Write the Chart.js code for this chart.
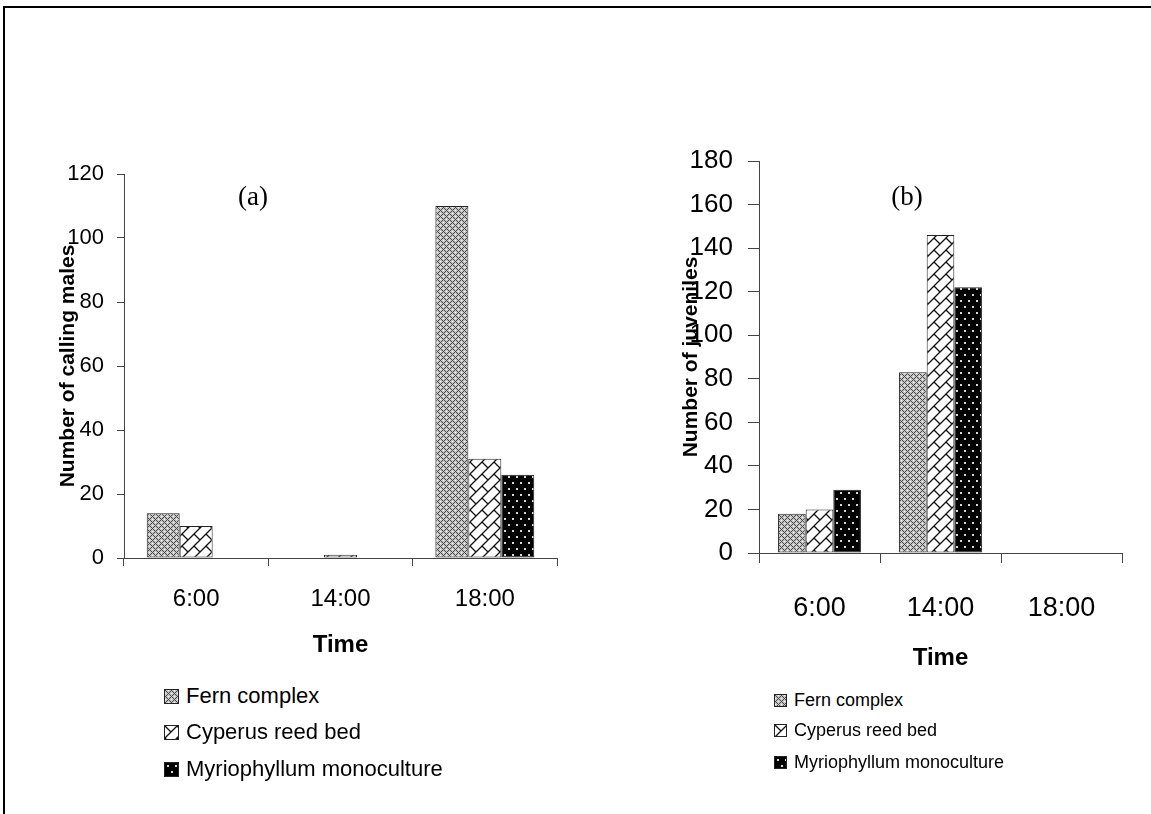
<!DOCTYPE html>
<html>
<head>
<meta charset="utf-8">
<script src="https://cdn.jsdelivr.net/npm/chart.js@4.4.1/dist/chart.umd.min.js"></script>
<style>
    html, body { margin: 0; padding: 0; background: #fff; overflow: hidden; }
    body { width: 1151px; height: 814px; position: relative; font-family: 'Liberation Sans', Arial, sans-serif; }
    .frame { position: absolute; left: 3px; top: 6px; width: 1200px; height: 900px; border-top: 2px solid #000; border-left: 2px solid #000; }
    canvas { position: absolute; }
    .panel { position: absolute; font-family: 'Liberation Serif', 'Times New Roman', serif; font-size: 27px; line-height: 27px; transform: translate(-50%, -50%); }
    .legend { position: absolute; }
    .legend .row { display: flex; align-items: center; position: absolute; left: 0; white-space: nowrap; }
    .legend canvas { position: static; border: 1px solid #222; margin-right: 7px; }
</style>
</head>
<body>
<div class="frame"></div>
<canvas id="chartA" width="530" height="520" style="left:50px;top:150px"></canvas>
<canvas id="chartB" width="481" height="560" style="left:670px;top:130px"></canvas>
<div class="panel" style="left:253px;top:196px">(a)</div>
<div class="panel" style="left:907px;top:196px">(b)</div>
<div class="legend" id="legendA" style="left:164px;top:0"></div>
<div class="legend" id="legendB" style="left:774px;top:0"></div>
<script>
// data
const times = ['6:00', '14:00', '18:00'];
const habitats = ['Fern complex', 'Cyperus reed bed', 'Myriophyllum monoculture'];

const callingFern = [14, 0, 110];
const callingCyperus = [10, 1, 31];
const callingMyrio = [0, 0, 26];

const juvFern = [18, 83, 0];
const juvCyperus = [20, 146, 0];
const juvMyrio = [29, 122, 0];

// hatch fills
function makePattern(w, h, draw) {
    const c = document.createElement('canvas');
    c.width = w;
    c.height = h;
    const g = c.getContext('2d');
    draw(g);
    return g.createPattern(c, 'repeat');
}

const fernFill = makePattern(6, 6, g => {
    g.fillStyle = '#c4c4c4';
    g.fillRect(0, 0, 6, 6);
    g.fillStyle = '#4a4a4a';
    for (let i = 0; i < 6; i++) {
        g.fillRect(i, i, 1, 1);
        g.fillRect((6 - i) % 6, i, 1, 1);
    }
    g.fillStyle = '#fff';
    g.fillRect(3, 0, 1, 1);
    g.fillRect(0, 3, 1, 1);
});

const cyperusFill = makePattern(12, 12, g => {
    g.fillStyle = '#fff';
    g.fillRect(0, 0, 12, 12);
    g.strokeStyle = '#111';
    g.lineWidth = 1.3;
    g.beginPath();
    g.moveTo(-1, 13); g.lineTo(13, -1);
    g.moveTo(-1, 1); g.lineTo(1, -1);
    g.moveTo(11, 13); g.lineTo(13, 11);
    g.moveTo(0, 0); g.lineTo(6, 6);
    g.stroke();
});

const myrioFill = makePattern(8, 12, g => {
    g.fillStyle = '#000';
    g.fillRect(0, 0, 8, 12);
    g.fillStyle = '#d8d8d8';
    g.fillRect(2, 2, 2, 2);
    g.fillRect(6, 8, 2, 2);
});

const fills = [fernFill, cyperusFill, myrioFill];
const font = 'Liberation Sans';
const axisColor = '#444';

function makeDatasets(series) {
    return series.map((values, i) => ({
        label: habitats[i],
        data: values,
        backgroundColor: fills[i],
        borderColor: '#222',
        borderWidth: 1,
        borderSkipped: false,
        barPercentage: 1,
        categoryPercentage: 0.685
    }));
}

function makeChart(id, series, cfg) {
    return new Chart(document.getElementById(id), {
        type: 'bar',
        data: { labels: times, datasets: makeDatasets(series) },
        options: {
            responsive: false,
            animation: false,
            layout: { padding: { left: 0, top: cfg.padTop, right: cfg.padRight, bottom: 0 } },
            plugins: { legend: { display: false }, tooltip: { enabled: false } },
            scales: {
                x: {
                    grid: { drawOnChartArea: false, drawTicks: true, tickLength: cfg.xTick, color: axisColor },
                    border: { display: true, color: axisColor },
                    ticks: { color: '#000', padding: cfg.xPad, font: { family: font, size: cfg.xSize, lineHeight: 1 } },
                    title: {
                        display: true, text: 'Time', color: '#000',
                        padding: { top: 0, bottom: cfg.xTitlePad },
                        font: { family: font, size: 24, weight: 'bold', lineHeight: 1 }
                    },
                    afterFit: s => { s.height = cfg.xHeight; }
                },
                y: {
                    min: 0,
                    max: cfg.yMax,
                    grid: { drawOnChartArea: false, drawTicks: true, tickLength: cfg.yTick, color: axisColor },
                    border: { display: true, color: axisColor },
                    ticks: { stepSize: 20, color: '#000', padding: cfg.yPad, font: { family: font, size: cfg.ySize, lineHeight: 1 } },
                    title: {
                        display: true, text: cfg.yTitle, color: '#000',
                        padding: { top: cfg.yTitlePad, bottom: 0 },
                        font: { family: font, size: 21, weight: 'bold', lineHeight: 1 }
                    },
                    afterFit: s => { s.width = cfg.yWidth; }
                }
            }
        }
    });
}

makeChart('chartA', [callingFern, callingCyperus, callingMyrio], {
    yMax: 120, yTitle: 'Number of calling males',
    padTop: 23, padRight: 23,
    yWidth: 74, yTick: 7, yPad: 13, ySize: 22, yTitlePad: 7.5,
    xHeight: 112, xTick: 8, xPad: 21, xSize: 24, xTitlePad: 13
});

makeChart('chartB', [juvFern, juvCyperus, juvMyrio], {
    yMax: 180, yTitle: 'Number of juveniles',
    padTop: 31, padRight: 29,
    yWidth: 89, yTick: 11, yPad: 15, ySize: 26, yTitlePad: 10.5,
    xHeight: 137, xTick: 10, xPad: 32, xSize: 27, xTitlePad: 20
});

// legends under each panel
function buildLegend(id, centers, box, size) {
    const host = document.getElementById(id);
    habitats.forEach((name, i) => {
        const row = document.createElement('div');
        row.className = 'row';
        row.style.top = (centers[i] - size / 2) + 'px';
        row.style.height = size + 'px';
        row.style.fontSize = size + 'px';
        row.style.lineHeight = size + 'px';
        const sw = document.createElement('canvas');
        sw.width = box;
        sw.height = box;
        const g = sw.getContext('2d');
        g.fillStyle = fills[i];
        g.fillRect(0, 0, box, box);
        row.appendChild(sw);
        row.appendChild(document.createTextNode(name));
        host.appendChild(row);
    });
}

buildLegend('legendA', [696, 732, 769], 13, 22);
buildLegend('legendB', [700, 730, 762], 11, 18);
</script>
</body>
</html>
